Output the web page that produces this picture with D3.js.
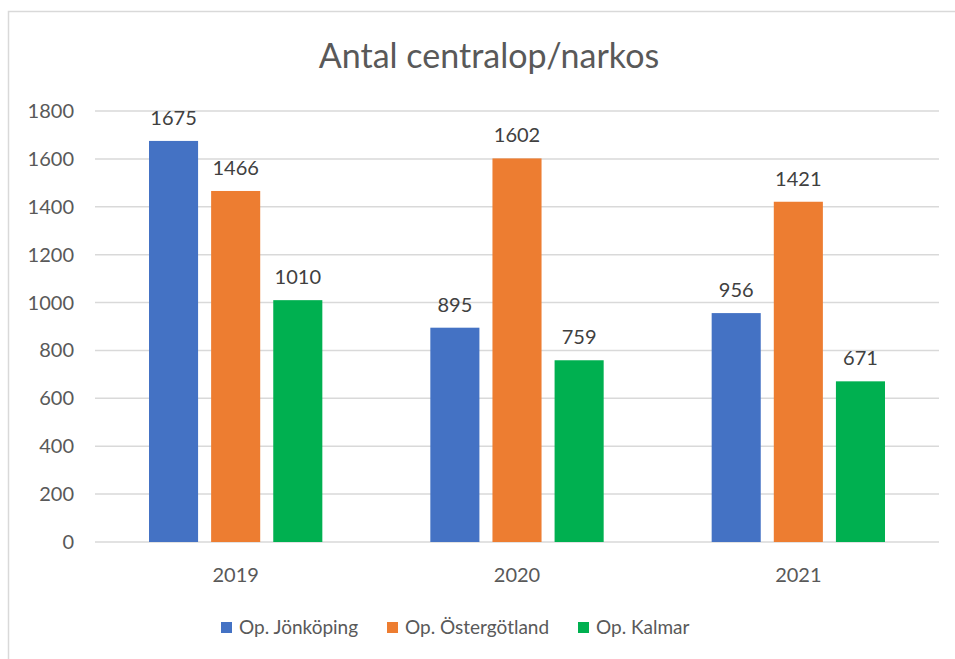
<!DOCTYPE html>
<html>
<head>
<meta charset="utf-8">
<script src="https://cdn.jsdelivr.net/npm/d3@7"></script>
<style>
  body { margin: 0; background: #fff; }
  svg { font-family: Lato, "Open Sans", sans-serif; }
</style>
</head>
<body>
<svg width="955" height="659"></svg>
<script>
// data
var years = ["2019", "2020", "2021"];
var seriesNames = ["Op. Jönköping", "Op. Östergötland", "Op. Kalmar"];
var jonkoping = [1675, 895, 956];
var ostergotland = [1466, 1602, 1421];
var kalmar = [1010, 759, 671];
var seriesColors = ["#4472C4", "#ED7D31", "#00B050"];
var yTicks = [0, 200, 400, 600, 800, 1000, 1200, 1400, 1600, 1800];

var allSeries = [jonkoping, ostergotland, kalmar];

var svg = d3.select("svg");

// chart border
svg.append("rect")
  .attr("x", 8.5).attr("y", 11.5)
  .attr("width", 960).attr("height", 660)
  .attr("fill", "#fff")
  .attr("stroke", "#d9d9d9")
  .attr("stroke-width", 1.5);

var plotLeft = 95, plotRight = 939, plotTop = 111, plotBottom = 542;

var x0 = d3.scaleBand().domain(years).range([plotLeft, plotRight]).paddingInner(0).paddingOuter(0);
var x1 = d3.scaleBand().domain(d3.range(3)).range([54, x0.bandwidth() - 54]).paddingInner(0.21);
var y = d3.scaleLinear().domain([0, 1800]).range([plotBottom, plotTop]);

// gridlines
svg.append("g")
  .selectAll("line")
  .data(yTicks)
  .enter().append("line")
    .attr("x1", plotLeft).attr("x2", plotRight)
    .attr("y1", function(d) { return y(d); })
    .attr("y2", function(d) { return y(d); })
    .attr("stroke", "#d9d9d9")
    .attr("stroke-width", 1.5);

// y tick labels
svg.append("g")
  .selectAll("text")
  .data(yTicks)
  .enter().append("text")
    .attr("x", 74)
    .attr("y", function(d) { return y(d); })
    .attr("dy", "0.35em")
    .attr("text-anchor", "end")
    .attr("fill", "#595959")
    .style("font-size", "20px")
    .text(function(d) { return d; });

// bars
var groups = svg.append("g")
  .selectAll("g")
  .data(years)
  .enter().append("g")
    .attr("transform", function(d) { return "translate(" + x0(d) + ",0)"; });

groups.selectAll("rect")
  .data(function(d, i) { return allSeries.map(function(s, k) { return { k: k, v: s[i] }; }); })
  .enter().append("rect")
    .attr("x", function(d) { return x1(d.k); })
    .attr("width", x1.bandwidth())
    .attr("y", function(d) { return y(d.v); })
    .attr("height", function(d) { return y(0) - y(d.v); })
    .attr("fill", function(d) { return seriesColors[d.k]; });

// data labels
groups.selectAll("text")
  .data(function(d, i) { return allSeries.map(function(s, k) { return { k: k, v: s[i] }; }); })
  .enter().append("text")
    .attr("x", function(d) { return x1(d.k) + x1.bandwidth() / 2; })
    .attr("y", function(d) { return y(d.v) - 16; })
    .attr("text-anchor", "middle")
    .attr("fill", "#404040")
    .style("font-size", "20px")
    .text(function(d) { return d.v; });

// category labels
svg.append("g")
  .selectAll("text")
  .data(years)
  .enter().append("text")
    .attr("x", function(d) { return x0(d) + x0.bandwidth() / 2; })
    .attr("y", 582)
    .attr("text-anchor", "middle")
    .attr("fill", "#595959")
    .style("font-size", "20px")
    .text(function(d) { return d; });

// title
svg.append("text")
  .attr("x", 489)
  .attr("y", 68)
  .attr("text-anchor", "middle")
  .attr("fill", "#595959")
  .style("font-size", "34px")
  .text("Antal centralop/narkos");

// legend
var legendX = [221, 387, 578];
var legend = svg.append("g")
  .selectAll("g")
  .data(seriesNames)
  .enter().append("g")
    .attr("transform", function(d, i) { return "translate(" + legendX[i] + ",622)"; });

legend.append("rect")
  .attr("width", 11).attr("height", 11)
  .attr("fill", function(d, i) { return seriesColors[i]; });

legend.append("text")
  .attr("x", 18)
  .attr("y", 5.5)
  .attr("dy", "0.35em")
  .attr("fill", "#595959")
  .style("font-size", "19px")
  .text(function(d) { return d; });
</script>
</body>
</html>
